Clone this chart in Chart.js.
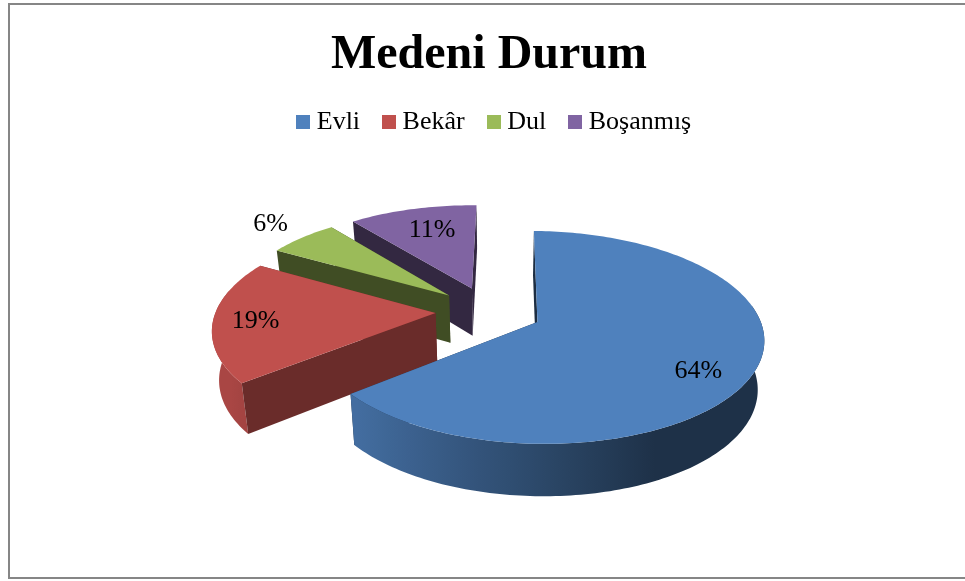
<!DOCTYPE html>
<html>
<head>
<meta charset="utf-8">
<script src="https://cdn.jsdelivr.net/npm/chart.js@4"></script>
<style>
html, body { margin: 0; background: #fff; overflow: hidden; }
#frame { position: absolute; left: 8px; top: 3px; width: 962px; height: 576px; box-sizing: border-box; border: 2px solid #868686; }
</style>
</head>
<body>
<div id="frame"><canvas id="pieChart" width="958" height="572"></canvas></div>
<script>
const categories = ['Evli', 'Bekâr', 'Dul', 'Boşanmış'];
const percents = [64, 19, 6, 11];
const colors = ['#4f81bd', '#c0504d', '#9bbb59', '#8064a2'];

// how dark the cut side of each slice is, and where its label sits
const cutShade = [0.35, 0.55, 0.41, 0.40];
const labelReach = [0.75, 0.81, 1.24, 0.64];
const labelLift = [13, 2, -1, -5];

// fake 3D view of the flat pie
const view = { a: 224.5, b: 104.2, k: 0.1455, fu: 0.215, fv: 0.1, panX: -1, shear: 0.015, pinch: 3.5e-5, vanishX: 490, squeeze: 0.975, depth: 48, depthGrow: 4 };

function project(el, u, v) {
    const w = 1 - view.k * (v - view.fv);
    const fx = el.x + view.a * view.fu + view.panX;
    let dx = view.a * (u - view.fu) / w;
    if (dx < 0) dx += view.pinch * dx * dx;
    return {
        x: fx + dx,
        y: el.y + view.b * view.fv + view.b * (v - view.fv) / w + view.shear * dx
    };
}

function lower(p, v) {
    return { x: view.vanishX + (p.x - view.vanishX) * view.squeeze, y: p.y + view.depth + view.depthGrow * v };
}

function shade(hex, f) {
    const n = parseInt(hex.slice(1), 16);
    const c = [n >> 16, (n >> 8) & 255, n & 255].map(ch => Math.round(ch * f));
    return 'rgb(' + c.join(',') + ')';
}

function fillPoly(ctx, pts, color) {
    ctx.beginPath();
    pts.forEach((p, i) => i ? ctx.lineTo(p.x, p.y) : ctx.moveTo(p.x, p.y));
    ctx.closePath();
    ctx.fillStyle = color;
    ctx.fill();
}

// outer wall: lighter on the left and dark to the right
function wallGradient(ctx, rim, color) {
    const xs = rim.map(r => r.top.x);
    const minX = Math.min(...xs), maxX = Math.max(...xs);
    const grad = ctx.createLinearGradient(minX, 0, maxX, 0);
    rim.forEach((r, s) => {
        if (s % 5) return;
        const f = Math.min(0.88, Math.max(0.38, 0.56 - 0.39 * Math.cos(r.a)));
        grad.addColorStop((r.top.x - minX) / (maxX - minX || 1), shade(color, f));
    });
    return grad;
}

function drawSlice(ctx, el, i) {
    const color = el.options.backgroundColor;
    const mid = (el.startAngle + el.endAngle) / 2;
    const off = el.options.offset / el.outerRadius;
    const ou = Math.cos(mid) * off, ov = Math.sin(mid) * off;
    const rim = [];
    const steps = Math.ceil((el.endAngle - el.startAngle) / 0.02);
    for (let s = 0; s <= steps; s++) {
        const a = el.startAngle + (el.endAngle - el.startAngle) * s / steps;
        const v = ov + Math.sin(a);
        const p = project(el, ou + Math.cos(a), v);
        rim.push({ a, top: p, bottom: lower(p, v) });
    }
    const apex = project(el, ou, ov);
    const apexBottom = lower(apex, ov);
    const cut = shade(color, cutShade[i]);
    const last = rim[rim.length - 1];
    fillPoly(ctx, [apex, last.top, last.bottom, apexBottom], cut);
    // only the part of the rim facing the viewer can show
    const front = rim.filter(r => Math.sin(r.a) > -0.2);
    if (front.length > 1) {
        const wall = front.map(r => r.top).concat(front.map(r => r.bottom).reverse());
        fillPoly(ctx, wall, wallGradient(ctx, front, color));
    }
    fillPoly(ctx, [apex, rim[0].top, rim[0].bottom, apexBottom], cut);
    fillPoly(ctx, [apex].concat(rim.map(r => r.top)), color);
}

const pie3d = {
    id: 'pie3d',
    afterLayout(chart) {
        chart.legend.left += 8;
        chart.legend.right += 8;
        chart.legend.top -= 4;
        chart.legend.bottom -= 4;
    },
    beforeDatasetsDraw(chart) {
        const ctx = chart.ctx;
        const arcs = chart.getDatasetMeta(0).data;
        ctx.save();
        [3, 2, 1, 0].forEach(i => drawSlice(ctx, arcs[i], i));
        ctx.fillStyle = '#000';
        ctx.font = '26px "Liberation Serif"';
        ctx.textAlign = 'center';
        ctx.textBaseline = 'middle';
        arcs.forEach((el, i) => {
            const mid = (el.startAngle + el.endAngle) / 2;
            const r = labelReach[i] + el.options.offset / el.outerRadius;
            const p = project(el, Math.cos(mid) * r, Math.sin(mid) * r);
            ctx.fillText(percents[i] + '%', p.x, p.y + labelLift[i]);
        });
        ctx.restore();
        return false;
    }
};

function legendSwatch(color) {
    const c = document.createElement('canvas');
    c.width = 14;
    c.height = 14;
    const g = c.getContext('2d');
    g.fillStyle = color;
    g.fillRect(0, 0, 14, 14);
    return c;
}

new Chart(document.getElementById('pieChart'), {
    type: 'pie',
    data: {
        labels: categories,
        datasets: [{
            data: percents,
            backgroundColor: colors,
            borderWidth: 0,
            offset: 35
        }]
    },
    options: {
        responsive: false,
        animation: false,
        rotation: -1,
        layout: { padding: { bottom: 103 } },
        plugins: {
            title: {
                display: true,
                text: 'Medeni Durum',
                color: '#000',
                font: { family: '"Liberation Serif"', size: 48, weight: 'bold' },
                padding: { top: 22, bottom: 0 }
            },
            legend: {
                position: 'top',
                labels: {
                    color: '#000',
                    font: { family: '"Liberation Serif"', size: 26 },
                    usePointStyle: true,
                    pointStyleWidth: 1,
                    padding: 28.5,
                    generateLabels: chart => categories.map((name, i) => ({
                        text: name,
                        pointStyle: legendSwatch(colors[i]),
                        fillStyle: colors[i],
                        strokeStyle: colors[i],
                        lineWidth: 0,
                        fontColor: '#000',
                        index: i
                    }))
                }
            },
            tooltip: { enabled: false }
        }
    },
    plugins: [pie3d]
});
</script>
</body>
</html>
